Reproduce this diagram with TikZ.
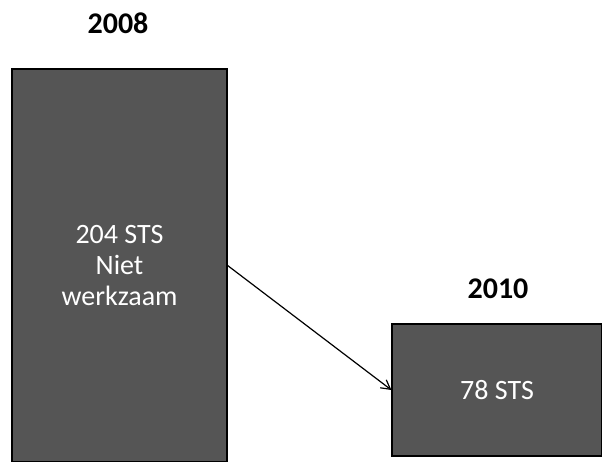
\documentclass[tikz,border=0pt]{standalone}
\usepackage{fontspec}
\setmainfont{Carlito}
\usetikzlibrary{arrows.meta}
\definecolor{boxgray}{HTML}{555555}
\begin{document}
\begin{tikzpicture}[x=1pt,y=-1pt,
  box/.style={draw=black, line width=1.2pt, fill=boxgray, text=white,
    font=\fontsize{28}{31}\selectfont, align=center, inner sep=0pt},
  yearlabel/.style={font=\bfseries\fontsize{30}{36}\selectfont, inner sep=0pt},
  link/.style={draw=black, line width=1.2pt, -{Straight Barb[length=9pt,width=10pt]}}]
\useasboundingbox (0,0) rectangle (602,462);
\node[box, minimum width=215pt, minimum height=393pt] (L) at (119.5,265.5) {204 STS\\Niet\\werkzaam};
\node[box, minimum width=210pt, minimum height=132pt] (R) at (497,390) {78 STS};
\node[yearlabel] (Y1) at (118,23) {2008};
\node[yearlabel] (Y2) at (498,289) {2010};
\draw[link] (L.east) -- (R.west);
\end{tikzpicture}
\end{document}
